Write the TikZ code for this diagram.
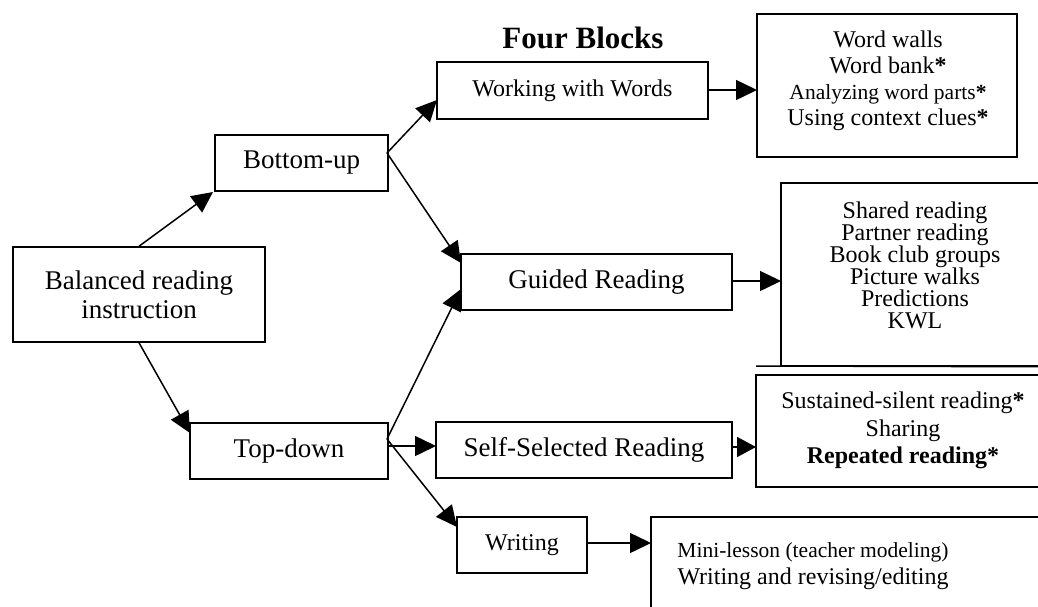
\documentclass[tikz,border=0pt]{standalone}
\usepackage{fontspec}
\setmainfont{Liberation Serif}
\usetikzlibrary{arrows.meta}
\lineskiplimit=-50pt
\begin{document}
\begin{tikzpicture}[x=1pt,y=-1pt,
  box/.style={draw, line width=1.5pt, inner sep=0pt, align=center},
  conn/.style={line width=1.5pt, -{Triangle[length=21pt,width=20pt]}},
  big/.style={font=\fontsize{27}{29}\selectfont},
  mid/.style={font=\fontsize{24}{26}\selectfont},
  listtext/.style={align=center, inner sep=0pt},
  ]
\useasboundingbox (0,0) rectangle (1038,607);
\fill[white] (0,0) rectangle (1038,607);
\clip (0,0) rectangle (1038,607);

% title
\node[font=\bfseries\fontsize{31}{31}\selectfont] (title) at (583,38) {Four Blocks};

% main boxes
\node[box, big, minimum width=252pt, minimum height=95pt] (bal) at (139,294.5) {Balanced reading\\instruction};
\node[box, big, minimum width=173pt, minimum height=56pt] (bu) at (301.5,163) {Bottom-up};
\node[box, big, minimum width=198pt, minimum height=56pt] (td) at (289,451) {Top-down};
\node[box, mid, minimum width=271pt, minimum height=57pt] (www) at (572.5,90.5) {Working with Words};
\node[box, big, minimum width=271pt, minimum height=56pt] (gr) at (596.5,282) {Guided Reading};
\node[box, big, minimum width=296pt, minimum height=56pt] (ssr) at (584,450) {Self-Selected Reading};
\node[box, mid, minimum width=130pt, minimum height=56pt] (wr) at (522,545) {Writing};

% list boxes
\node[box, minimum width=260pt, minimum height=143pt] (wl) at (887,85.5) {};
\node[box, minimum width=269pt, minimum height=183pt] (gl) at (915.5,274.5) {};
\node[box, minimum width=294pt, minimum height=112pt] (sl) at (903,431) {};
\node[box, minimum width=420pt, minimum height=140pt] (wrl) at (861,587) {};
\coordinate (glline) at (756,366);
\draw[line width=1.5pt] (glline) -- (gl.south east);

% list texts
\node[listtext, font=\fontsize{24}{26}\selectfont] (wlt) at (888,81)
  {Word walls\\Word bank\textbf{*}\\{\fontsize{21.5}{26}\selectfont Analyzing word parts\textbf{*}}\\Using context clues\textbf{*}};
\node[listtext, font=\fontsize{24}{22}\selectfont] (glt) at (915,265)
  {Shared reading\\Partner reading\\Book club groups\\Picture walks\\Predictions\\KWL};
\node[listtext, font=\fontsize{24}{27.5}\selectfont] (slt) at (903,430.5)
  {Sustained-silent reading\textbf{*}\\Sharing\\\textbf{Repeated reading*}};
\node[listtext, font=\fontsize{24}{26.5}\selectfont] (wrlt) at (813,566)
  {{\fontsize{21.5}{26.5}\selectfont Mini-lesson (teacher modeling)}\\Writing and revising/editing};

% connection points
\coordinate (buin) at (213,192);
\coordinate (tdin) at (190,433);
\coordinate (buj) at (387,153);
\coordinate (tdj) at (387,439);
\coordinate (tdh) at (388,446);
\coordinate (wwwin) at (437,100);
\coordinate (grin1) at (461,263);
\coordinate (grin2) at (461,289);
\coordinate (ssrin) at (436,446);
\coordinate (wrin) at (457,527);
\coordinate (wwwout) at (708,90);
\coordinate (wlin) at (757,90);
\coordinate (grout) at (732,281);
\coordinate (glin) at (781,281);
\coordinate (ssrout) at (732,447);
\coordinate (slin) at (756,447);
\coordinate (wrout) at (587,543);
\coordinate (wrlin) at (651,543);

% connectors
\draw[conn] (bal.north) -- (buin);
\draw[conn] (bal.south) -- (tdin);
\draw[conn] (buj) -- (wwwin);
\draw[conn] (buj) -- (grin1);
\draw[conn] (tdj) -- (grin2);
\draw[conn] (tdh) -- (ssrin);
\draw[conn] (tdj) -- (wrin);
\draw[conn] (wwwout) -- (wlin);
\draw[conn] (grout) -- (glin);
\draw[conn, -{Triangle[length=19pt,width=20pt]}] (ssrout) -- (slin);
\draw[conn] (wrout) -- (wrlin);
\end{tikzpicture}
\end{document}
